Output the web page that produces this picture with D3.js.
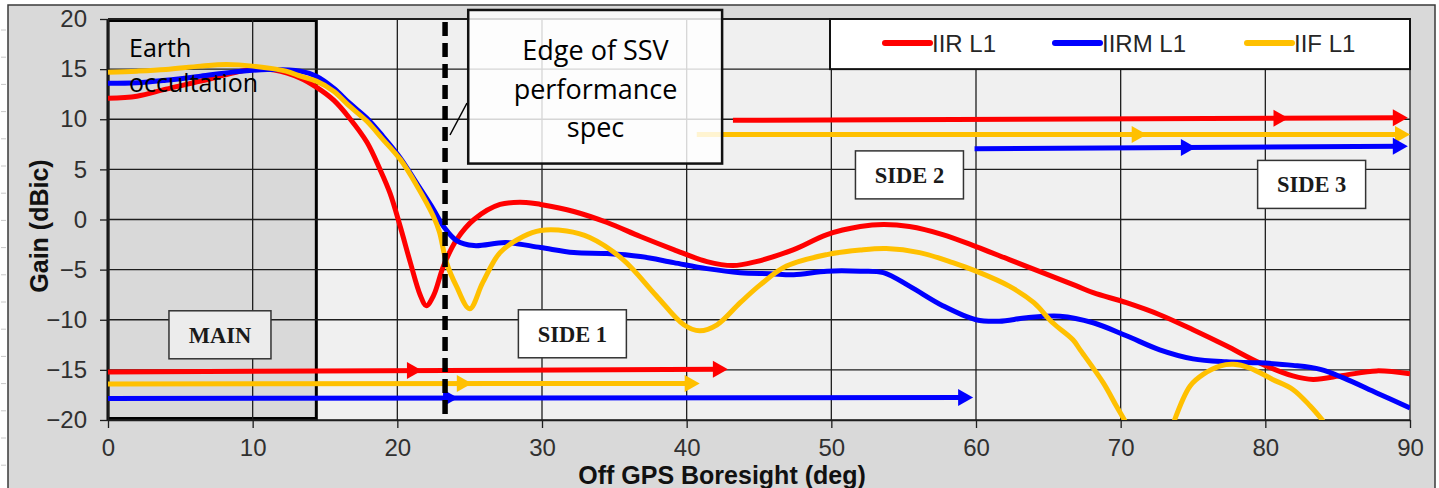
<!DOCTYPE html>
<html>
<head>
<meta charset="utf-8">
<script src="https://cdn.jsdelivr.net/npm/d3@7"></script>
<style>
  body { margin: 0; background: #fff; }
  svg { display: block; }
</style>
</head>
<body>
<svg id="chart" width="1439" height="488"></svg>
<script>
// ---- data (deg off boresight, gain dBic) ----
var xTicks = [0, 10, 20, 30, 40, 50, 60, 70, 80, 90];
var yTicks = [-20, -15, -10, -5, 0, 5, 10, 15, 20];

var seriesNames = ["IIR L1", "IIRM L1", "IIF L1"];
var seriesColors = ["#ff0000", "#0000ff", "#ffc000"];

var iirL1 = [[0,12.1],[2,12.3],[4,13.0],[6.4,13.8],[8.6,14.6],[10,15.0],[11.5,14.9],[13.3,14.1],[14.4,13.2],
  [15.6,11.9],[16.7,10.1],[17.9,7.7],[18.8,5.0],[19.5,2.6],[20.2,-0.7],[20.9,-4.3],[21.6,-7.6],[22.0,-8.6],
  [22.5,-7.6],[23.2,-4.6],[24.1,-2.0],[25.3,0],[27.1,1.5],[28.9,1.7],[29.9,1.5],[32.2,0.8],[34.5,-0.3],
  [36.8,-1.7],[39.1,-3.0],[41.4,-4.2],[43.2,-4.6],[44.8,-4.2],[47.4,-3.0],[49.7,-1.5],[52.0,-0.7],[53.6,-0.5],
  [55.4,-0.7],[57.7,-1.5],[60.0,-2.7],[62.3,-4.0],[64.6,-5.3],[66.9,-6.6],[68.1,-7.3],[70.4,-8.3],[72.7,-9.5],
  [75.0,-11.0],[77.3,-12.6],[79.6,-14.3],[81.9,-15.6],[83.3,-15.95],[85.4,-15.55],[87.7,-15.1],[90,-15.4]];

var iirmL1 = [[0,13.6],[2,13.65],[4,13.9],[6.4,14.3],[8.6,14.7],[11,14.96],[13.3,14.8],[14.4,14.3],[15.6,13.1],
  [16.7,11.6],[17.9,10.1],[19.0,8.3],[20.2,6.15],[21.3,3.7],[22.5,1.0],[23.2,-0.7],[24.1,-2.1],[25.3,-2.6],
  [27.5,-2.3],[29.9,-2.8],[32.2,-3.3],[34.5,-3.4],[36.8,-3.7],[39.1,-4.3],[41.4,-4.9],[43.7,-5.3],[45.8,-5.4],
  [47.4,-5.5],[49.7,-5.15],[52.0,-5.15],[53.6,-5.3],[55.4,-6.65],[57.7,-8.6],[60.0,-10.0],[61.6,-10.15],
  [63.5,-9.8],[65.8,-9.65],[68.1,-10.3],[70.4,-11.6],[72.7,-13.0],[75.0,-13.9],[77.3,-14.2],[79.6,-14.3],
  [81.9,-14.55],[83.8,-14.95],[85.4,-15.8],[87.7,-17.3],[90,-18.8]];

var iifL1 = [[0,14.7],[2,14.8],[4,14.96],[6.4,15.3],[8.2,15.45],[10,15.3],[12.3,14.8],[13.3,14.3],[14.4,13.8],
  [15.6,12.8],[16.7,11.3],[17.9,9.8],[19.0,8.0],[20.2,6.0],[21.3,3.5],[22.5,0.3],[22.9,-1.2],[23.4,-4.3],
  [24.1,-6.7],[25.0,-8.9],[25.9,-6.3],[27.1,-3.3],[28.7,-1.7],[29.9,-1.1],[31.7,-1.15],[33.3,-1.8],[35.6,-4.0],
  [37.9,-7.6],[39.8,-10.5],[40.9,-11.1],[42.1,-10.5],[43.7,-8.3],[45.1,-6.5],[46.9,-4.65],[49.7,-3.5],
  [52.0,-3.05],[53.8,-2.9],[56.1,-3.3],[58.4,-4.3],[60.0,-5.15],[62.3,-6.65],[64.0,-8.3],[65.3,-10.3],
  [66.7,-12.0],[67.2,-13.0],[68.8,-16.3],[69.7,-18.6],[70.3,-20.1],[72,null],[73.7,-20.1],[74.8,-16.6],
  [75.7,-15.45],[76.9,-14.6],[77.8,-14.45],[78.9,-14.8],[80.5,-15.95],[81.9,-16.95],[83.1,-18.6],[84.0,-20.1]];

var seriesData = [iirL1, iirmL1, iifL1];

// coverage arrows: [series index, x start, x end, y start, y end, arrowhead tips]
var arrowsBottom = [[0, 0, 42.85, -15.2, -14.95, [21.7, 42.85]],
                    [2, 0, 40.9, -16.4, -16.35, [25.15, 40.9]],
                    [1, 0, 59.8, -17.85, -17.75, [24.2, 59.8]]];
var arrowsTop = [[0, 43.2, 89.85, 9.9, 10.15, [81.6, 89.85]],
                 [2, 40.7, 90, 8.47, 8.47, [71.8, 90]],
                 [1, 59.9, 89.85, 7.05, 7.3, [75.2, 89.85]]];

var occultationEdge = 14.4;
var ssvEdge = 23.3;

// region labels: text, centre deg, centre dB, fill
var regionLabels = [["MAIN", 7.74, -11.5, "#ececec"],
                    ["SIDE 1", 32.1, -11.4, "#ffffff"],
                    ["SIDE 2", 55.4, 4.45, "#ffffff"],
                    ["SIDE 3", 83.2, 3.5, "#ffffff"]];

// ---- layout ----
var plot = {left: 108, right: 1410, top: 19, bottom: 420};

var x = d3.scaleLinear().domain([0, 90]).range([plot.left, plot.right]);
var y = d3.scaleLinear().domain([-20, 20]).range([plot.bottom, plot.top]);

var svg = d3.select("#chart");
var SANS = "'Liberation Sans', Arial, sans-serif";

// outer chart frame
svg.append("rect")
    .attr("x", 8).attr("y", 5)
    .attr("width", 1427).attr("height", 500)
    .attr("fill", "#d9d9d9")
    .attr("stroke", "#3a3a3a")
    .attr("stroke-width", 1.5);

// faint marks left of the frame
svg.append("g").selectAll("line")
    .data(d3.range(30, 488, 27.2))
    .join("line")
    .attr("x1", 1).attr("x2", 6)
    .attr("y1", function(d) { return d; }).attr("y2", function(d) { return d; })
    .attr("stroke", "#c8c8c8").attr("stroke-width", 1);

svg.append("defs").append("clipPath").attr("id", "plotClip")
    .append("rect")
    .attr("x", plot.left).attr("y", plot.top)
    .attr("width", plot.right - plot.left).attr("height", plot.bottom - plot.top);

// plot area
svg.append("rect")
    .attr("x", plot.left).attr("y", plot.top)
    .attr("width", plot.right - plot.left).attr("height", plot.bottom - plot.top)
    .attr("fill", "#f0f0f0");

// earth occultation shading
svg.append("rect")
    .attr("x", x(0)).attr("y", y(20) + 1.5)
    .attr("width", x(occultationEdge) - x(0))
    .attr("height", y(-20) - y(20) - 3)
    .attr("fill", "#d9d9d9")
    .attr("stroke", "#000")
    .attr("stroke-width", 3);

// grid
var grid = svg.append("g").attr("stroke", "#1e1e1e").attr("stroke-width", 1.3);
grid.selectAll(".vgrid").data(xTicks).join("line")
    .attr("class", "vgrid")
    .attr("x1", function(d) { return x(d); }).attr("x2", function(d) { return x(d); })
    .attr("y1", plot.top).attr("y2", plot.bottom);
grid.selectAll(".hgrid").data(yTicks).join("line")
    .attr("class", "hgrid")
    .attr("x1", plot.left).attr("x2", plot.right)
    .attr("y1", function(d) { return y(d); }).attr("y2", function(d) { return y(d); });

// axes
var xAxis = svg.append("g")
    .attr("transform", "translate(0," + plot.bottom + ")")
    .call(d3.axisBottom(x).tickValues(xTicks).tickSize(8).tickSizeOuter(0).tickPadding(11));
var yAxis = svg.append("g")
    .attr("transform", "translate(" + plot.left + ",0)")
    .call(d3.axisLeft(y).tickValues(yTicks).tickSize(8).tickSizeOuter(0).tickPadding(13));

[xAxis, yAxis].forEach(function(ax) {
    ax.select(".domain").attr("stroke", "#1e1e1e").attr("stroke-width", 1.5);
    ax.selectAll(".tick line").attr("stroke", "#1e1e1e").attr("stroke-width", 1.3);
    ax.selectAll(".tick text")
        .attr("fill", "#303030")
        .style("font-family", SANS)
        .style("font-size", "24px");
});

// top border of plot
svg.append("line")
    .attr("x1", plot.left).attr("x2", plot.right)
    .attr("y1", plot.top).attr("y2", plot.top)
    .attr("stroke", "#1e1e1e").attr("stroke-width", 2);

// axis titles
svg.append("text")
    .attr("x", 722).attr("y", 484)
    .attr("text-anchor", "middle")
    .style("font-family", SANS).style("font-size", "25px").style("font-weight", "bold")
    .attr("fill", "#111")
    .text("Off GPS Boresight (deg)");

svg.append("text")
    .attr("transform", "translate(48,226) rotate(-90)")
    .attr("text-anchor", "middle")
    .style("font-family", SANS).style("font-size", "25px").style("font-weight", "bold")
    .attr("fill", "#111")
    .text("Gain (dBic)");

// coverage arrows
var arrowLayer = svg.append("g");
function drawArrows(list) {
    list.forEach(function(a) {
        var color = seriesColors[a[0]];
        var yAt = function(v) { return y(a[3] + (a[4] - a[3]) * (v - a[1]) / (a[2] - a[1])); };
        arrowLayer.append("line")
            .attr("x1", x(a[1])).attr("x2", x(a[2]) - 8)
            .attr("y1", y(a[3])).attr("y2", yAt(a[2]))
            .attr("stroke", color).attr("stroke-width", 5);
        arrowLayer.selectAll(null).data(a[5]).join("path")
            .attr("d", function(t) {
                var tx = x(t), ty = yAt(t);
                return "M" + tx + "," + ty + "L" + (tx - 15) + "," + (ty - 8.5) + "L" + (tx - 15) + "," + (ty + 8.5) + "Z";
            })
            .attr("fill", color);
    });
}
drawArrows(arrowsBottom);
drawArrows(arrowsTop);

// gain curves
var line = d3.line()
    .defined(function(d) { return d[1] !== null; })
    .x(function(d) { return x(d[0]); })
    .y(function(d) { return y(d[1]); })
    .curve(d3.curveCatmullRom.alpha(0.5));

svg.append("g").attr("clip-path", "url(#plotClip)")
    .selectAll("path")
    .data(seriesData)
    .join("path")
    .attr("d", line)
    .attr("fill", "none")
    .attr("stroke", function(d, i) { return seriesColors[i]; })
    .attr("stroke-width", 5)
    .attr("stroke-linejoin", "round");

// earth occultation text
var eo = svg.append("text")
    .style("font-family", "'Open Sans', sans-serif").style("font-size", "25px")
    .attr("fill", "#000");
eo.append("tspan").attr("x", 129).attr("y", 57).text("Earth");
eo.append("tspan").attr("x", 129).attr("y", 92).text("occultation");

// SSV edge dashed marker
svg.append("line")
    .attr("x1", x(ssvEdge)).attr("x2", x(ssvEdge))
    .attr("y1", 22).attr("y2", 418)
    .attr("stroke", "#000").attr("stroke-width", 5.5)
    .attr("stroke-dasharray", "14,7");

svg.append("line")
    .attr("x1", 450).attr("y1", 135).attr("x2", 467).attr("y2", 103)
    .attr("stroke", "#000").attr("stroke-width", 1.5);

// SSV callout box
svg.append("rect")
    .attr("x", x(24.9)).attr("y", y(20.9))
    .attr("width", x(42.45) - x(24.9)).attr("height", y(5.58) - y(20.9))
    .attr("fill", "#fff").attr("fill-opacity", 0.82)
    .attr("stroke", "#111").attr("stroke-width", 2.5);

var ssv = svg.append("text")
    .attr("text-anchor", "middle")
    .style("font-family", "'Open Sans', sans-serif").style("font-size", "27px")
    .attr("fill", "#000");
[["Edge of SSV", 60], ["performance", 98.5], ["spec", 137]].forEach(function(l) {
    ssv.append("tspan").attr("x", x(33.7)).attr("y", l[1]).text(l[0]);
});

// region label boxes
var labels = svg.append("g").selectAll("g")
    .data(regionLabels)
    .join("g")
    .attr("transform", function(d) { return "translate(" + x(d[1]) + "," + y(d[2]) + ")"; });
labels.append("rect")
    .attr("x", function(d) { return d[0] === "MAIN" ? -51 : -54; })
    .attr("y", -24)
    .attr("width", function(d) { return d[0] === "MAIN" ? 102 : 108; })
    .attr("height", 48)
    .attr("fill", function(d) { return d[3]; })
    .attr("stroke", "#333").attr("stroke-width", 1.5);
labels.append("text")
    .attr("text-anchor", "middle")
    .attr("dy", "0.35em")
    .style("font-family", "'Liberation Serif', 'Times New Roman', serif")
    .style("font-size", "22.5px").style("font-weight", "bold")
    .attr("fill", "#1a1a1a")
    .text(function(d) { return d[0]; });

// legend
var legendX = [885, 1055, 1247];
svg.append("rect")
    .attr("x", 830).attr("y", y(20))
    .attr("width", plot.right - 830).attr("height", y(15) - y(20))
    .attr("fill", "#fff")
    .attr("stroke", "#111").attr("stroke-width", 2);

var legend = svg.append("g").selectAll("g")
    .data(seriesNames)
    .join("g")
    .attr("transform", function(d, i) { return "translate(" + legendX[i] + ",43)"; });
legend.append("line")
    .attr("x1", 0).attr("x2", 45)
    .attr("stroke", function(d, i) { return seriesColors[i]; })
    .attr("stroke-width", 6)
    .attr("stroke-linecap", "round");
legend.append("text")
    .attr("x", 47).attr("y", 9)
    .style("font-family", SANS).style("font-size", "24px")
    .attr("fill", "#262626")
    .text(function(d) { return d; });
</script>
</body>
</html>
